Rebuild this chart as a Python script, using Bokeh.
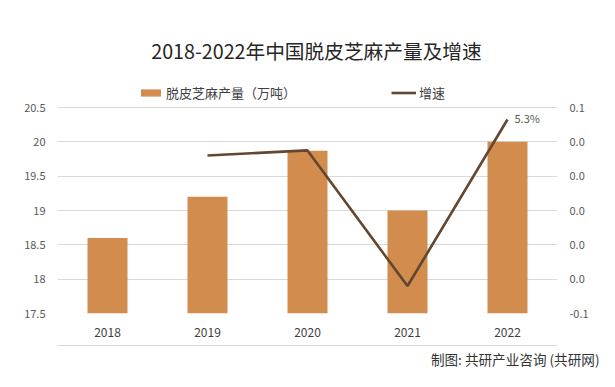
from bokeh.plotting import figure
from bokeh.models import (ColumnDataSource, Range1d, FactorRange, LinearAxis, CategoricalAxis,
                          FixedTicker, Legend, LegendItem, Label, Title)
from bokeh.embed import file_html
from bokeh.resources import INLINE

# ---- data ----
years = ["2018", "2019", "2020", "2021", "2022"]
production = [18.6, 19.2, 19.87, 19.0, 20.0]          # 万吨
growth_years = ["2019", "2020", "2021", "2022"]
growth = [0.032, 0.035, -0.044, 0.053]

left_ticks = [17.5, 18, 18.5, 19, 19.5, 20, 20.5]
left_tick_labels = ["17.5", "18", "18.5", "19", "19.5", "20", "20.5"]
right_ticks = [-0.06, -0.04, -0.02, 0.0, 0.02, 0.04, 0.06]
right_tick_labels = ["-0.1", "0.0", "0.0", "0.0", "0.0", "0.0", "0.1"]

title_text = "2018-2022年中国脱皮芝麻产量及增速"
bar_label = "脱皮芝麻产量（万吨）"
line_label = "增速"
footer_text = "制图: 共研产业咨询 (共研网)"

BAR_COLOR = "#D18C4E"
LINE_COLOR = "#634630"
TEXT_COLOR = "#595959"
FONT = "Noto Sans CJK SC"

# layout (pixels): the frame runs from the top of the canvas down to the
# bottom of the value axes; the axis span occupies its lower part.
W, H = 599, 371
FRAME_BOTTOM = 313
AXIS_SPAN = 206      # pixels between the lowest and the highest tick
extra = (FRAME_BOTTOM - AXIS_SPAN) / AXIS_SPAN   # headroom above the top tick, in spans

lo, hi = left_ticks[0], left_ticks[-1]
rlo, rhi = right_ticks[0], right_ticks[-1]

p = figure(width=W, height=H, x_range=FactorRange(*years),
           y_range=Range1d(lo, hi + (hi - lo) * extra),
           output_backend="svg", toolbar_location=None,
           min_border_left=57, min_border_right=42, min_border_top=0,
           min_border_bottom=H - FRAME_BOTTOM)
p.extra_y_ranges = {"g": Range1d(rlo, rhi + (rhi - rlo) * extra)}
p.outline_line_color = None
p.background_fill_color = "white"
p.border_fill_color = "white"

# grid
p.xgrid.grid_line_color = None
p.ygrid.grid_line_color = "#D9D9D9"
p.ygrid.grid_line_width = 1
p.ygrid.ticker = FixedTicker(ticks=left_ticks)

def style_axis(ax, size="11px", color=TEXT_COLOR):
    ax.axis_line_color = None
    ax.major_tick_line_color = None
    ax.minor_tick_line_color = None
    ax.major_tick_out = 0
    ax.minor_tick_out = 0
    ax.major_tick_in = 0
    ax.major_label_standoff = 12
    ax.major_label_text_font = FONT
    ax.major_label_text_font_size = size
    ax.major_label_text_color = color

# left axis
ya = p.yaxis[0]
ya.ticker = FixedTicker(ticks=left_ticks)
ya.major_label_overrides = {t: l for t, l in zip(left_ticks, left_tick_labels)}
style_axis(ya)

# right axis
ra = LinearAxis(y_range_name="g", ticker=FixedTicker(ticks=right_ticks))
ra.major_label_overrides = {t: l for t, l in zip(right_ticks, right_tick_labels)}
style_axis(ra)
p.add_layout(ra, "right")

# x axis
xa = p.xaxis[0]
style_axis(xa, size="12px", color="#404040")
xa.major_label_standoff = 14
xa.axis_label = " "
xa.axis_label_standoff = 0
xa.axis_label_text_font_size = "3px"

# thin rule above the footer: an extra, label-less category axis
sep = CategoricalAxis()
sep.axis_line_color = "#D9D9D9"
sep.axis_line_width = 1
sep.major_tick_line_color = None
sep.minor_tick_line_color = None
sep.major_tick_out = 0
sep.minor_tick_out = 0
sep.major_tick_in = 0
sep.major_label_standoff = 0
sep.major_label_text_font_size = "1px"
sep.major_label_text_alpha = 0
p.add_layout(sep, "below")

# bars
bsrc = ColumnDataSource(dict(x=years, top=production))
bars = p.vbar(x="x", top="top", bottom=lo, width=0.4, source=bsrc,
              fill_color=BAR_COLOR, line_color=None)

# line
lsrc = ColumnDataSource(dict(x=growth_years, y=growth))
line = p.line(x="x", y="y", source=lsrc, y_range_name="g",
              line_color=LINE_COLOR, line_width=2.6)

# last value label
tsrc = ColumnDataSource(dict(x=[growth_years[-1]], y=[growth[-1]],
                             t=[f"{growth[-1]*100:.1f}%"]))
p.text(x="x", y="y", text="t", source=tsrc, y_range_name="g",
       x_offset=7, y_offset=-2, text_baseline="middle", text_align="left",
       text_font_size="11px", text_color=TEXT_COLOR, text_font={"value": FONT})

# legend (in the headroom of the frame)
leg = Legend(items=[LegendItem(label=bar_label, renderers=[bars]),
                    LegendItem(label=line_label, renderers=[line])],
             location=(81, 211), orientation="horizontal", padding=0, margin=0,
             border_line_color=None, background_fill_alpha=0,
             glyph_width=25, glyph_height=9, spacing=95,
             label_standoff=3, label_height=18, label_text_font=FONT,
             label_text_font_size="13px", label_text_color="#404040")
p.add_layout(leg)

# title
p.add_layout(Label(x=259, y=263, x_units="screen", y_units="screen", text=title_text,
                   text_align="center", text_baseline="middle", text_font=FONT,
                   text_font_size="19.7px", text_color="#262626"))

# footer
p.add_layout(Title(text=footer_text, align="right", offset=-42, standoff=3,
                   text_font=FONT, text_font_size="13.6px", text_font_style="normal",
                   text_color="#333333"), "below")

open("out.html", "w").write(file_html(p, INLINE))
